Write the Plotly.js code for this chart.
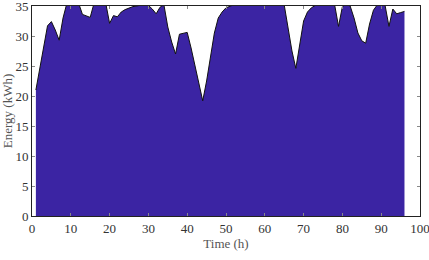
<!DOCTYPE html>
<html>
<head>
<meta charset="utf-8">
<script src="https://cdn.plot.ly/plotly-3.0.1.min.js"></script>
<style>html,body{margin:0;padding:0;background:#fff;}#chart{width:429px;height:260px;}</style>
</head>
<body>
<div id="chart"></div>
<script>
const hours = [1,2,3,4,5,6,7,8,9,10,11,12,13,14,15,16,17,18,19,20,21,22,23,24,25,26,27,28,29,30,31,32,33,34,35,36,37,38,39,40,41,42,43,44,45,46,47,48,49,50,51,52,53,54,55,56,57,58,59,60,61,62,63,64,65,66,67,68,69,70,71,72,73,74,75,76,77,78,79,80,81,82,83,84,85,86,87,88,89,90,91,92,93,94,95,96];
const energy = [21,24.5,28,31.7,32.4,31,29.3,33,35.5,36,36,35.5,33.6,33.3,33.1,35.5,36,36,35.5,32.1,
  33.4,33.2,34,34.4,34.7,34.9,35,35.2,35.3,35.1,34.5,33.7,34.8,35.2,31.5,29,27,30.3,30.5,30.6,
  28,25,22,19.2,22.5,26.5,30.5,33,34,34.7,35,35.2,35.3,35.4,35.4,35.4,35.4,35.4,35.4,35.4,
  35.4,35.4,35.4,35.3,35.2,31,27.5,24.6,28.5,32.5,34,34.7,35.1,35.3,35.4,35.4,35.3,35.2,31.6,34.9,
  35.3,35,33,30.5,29.2,28.8,32,34.3,35.2,35.3,35.1,31.6,34.5,33.7,33.9,34.1];
const xTicks = [0,10,20,30,40,50,60,70,80,90,100];
const yTicks = [0,5,10,15,20,25,30,35];

const fam = '"Liberation Serif", "Times New Roman", serif';
const font = {family: fam, size: 13, color: '#333'};
Plotly.newPlot('chart', [{
  x: hours, y: energy, type: 'scatter', mode: 'lines',
  fill: 'tozeroy', fillcolor: '#3b24a3',
  line: {color: '#111', width: 1}
}], {
  width: 429, height: 260,
  margin: {l: 32, r: 9, t: 6, b: 44},
  paper_bgcolor: '#fff', plot_bgcolor: '#fff',
  showlegend: false,
  font: font,
  xaxis: {
    range: [0, 100], tickvals: xTicks, ticktext: xTicks.map(String),
    ticks: 'inside', ticklen: 3, tickcolor: '#888', showgrid: false, zeroline: false,
    showline: true, linecolor: '#222', linewidth: 1, mirror: 'ticks',
    ticklabeloverflow: 'allow',
    title: {text: 'Time (h)', font: {family: fam, size: 13, color: '#555'}, standoff: 3},
    tickfont: font
  },
  yaxis: {
    range: [0, 35], tickvals: yTicks, ticktext: yTicks.map(String),
    ticks: 'inside', ticklen: 3, tickcolor: '#888', showgrid: false, zeroline: false,
    showline: true, linecolor: '#222', linewidth: 1, mirror: 'ticks',
    ticklabeloverflow: 'allow',
    title: {text: 'Energy (kWh)', font: {family: fam, size: 13, color: '#555'}, standoff: 2},
    tickfont: font
  }
}, {staticPlot: true});
</script>
</body>
</html>
